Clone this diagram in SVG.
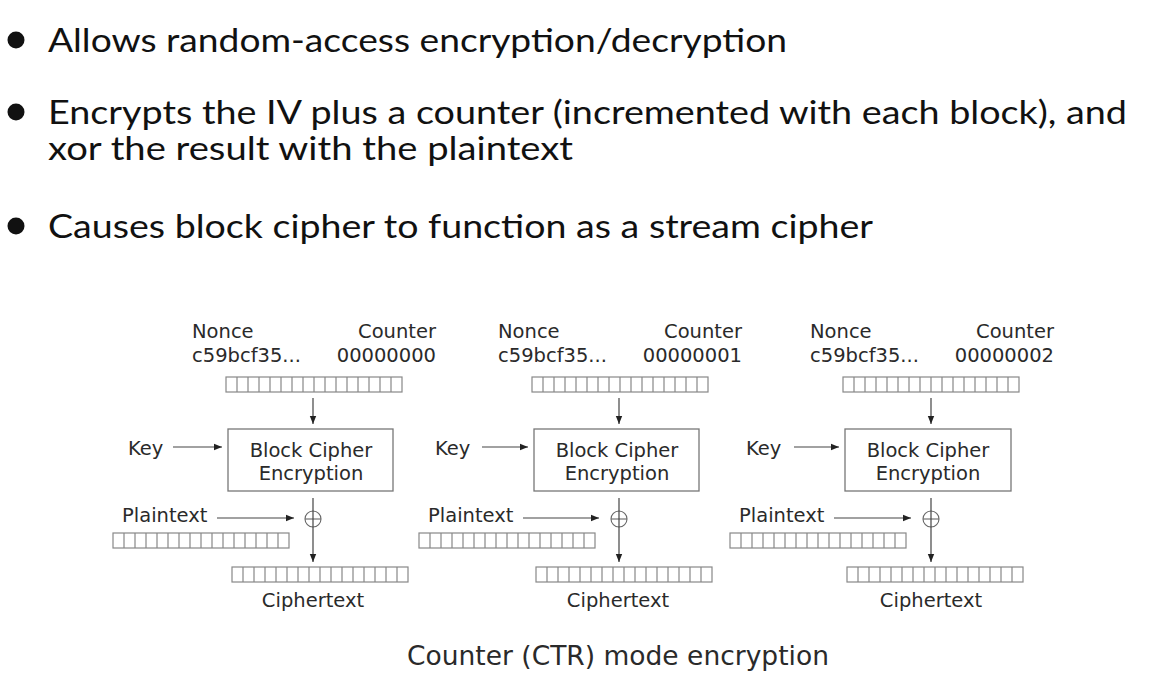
<svg xmlns="http://www.w3.org/2000/svg" xmlns:xlink="http://www.w3.org/1999/xlink" width="1170" height="700" viewBox="0 0 1170 700">
  <style>
    .bullet-text { font-family: Lato, "Open Sans", sans-serif; font-size: 33px; fill: #111; }
    .dot { fill: #111; }
    .lbl { font-family: "DejaVu Sans", sans-serif; font-size: 19.5px; fill: #2a2a2a; }
    .mid { text-anchor: middle; }
    .end { text-anchor: end; }
    .caption { font-family: "DejaVu Sans", sans-serif; font-size: 26.5px; fill: #2a2a2a; }
    .box { fill: #fff; stroke: #777; stroke-width: 1.3; }
    .reg { fill: #fff; stroke: #888; stroke-width: 1.2; }
    .conn { stroke: #444; stroke-width: 1.2; fill: none; }
    .xor { fill: none; stroke: #666; stroke-width: 1.1; }
  </style>
  <defs>
    <marker id="arrow" viewBox="0 0 10 10" refX="10" refY="5" markerWidth="8" markerHeight="8" markerUnits="userSpaceOnUse" orient="auto">
      <path d="M0,1 L10,5 L0,9 z" fill="#222"/>
    </marker>
    <!-- 16-cell register -->
    <g id="register">
      <rect class="reg" x="0" y="0" width="176" height="15"/>
      <path class="reg" d="M11,0v15M22,0v15M33,0v15M44,0v15M55,0v15M66,0v15M77,0v15M88,0v15M99,0v15M110,0v15M121,0v15M132,0v15M143,0v15M154,0v15M165,0v15"/>
    </g>
  </defs>

  <!-- bullet list -->
  <g id="bullets">
    <circle class="dot" cx="16" cy="40" r="8.5"/>
    <text class="bullet-text" x="48" y="52" textLength="739" lengthAdjust="spacingAndGlyphs">Allows random-access encryption/decryption</text>
    <circle class="dot" cx="16" cy="112" r="8.5"/>
    <text class="bullet-text" x="48" y="124" textLength="1079" lengthAdjust="spacingAndGlyphs">Encrypts the IV plus a counter (incremented with each block), and</text>
    <text class="bullet-text" x="48" y="160" textLength="525" lengthAdjust="spacingAndGlyphs">xor the result with the plaintext</text>
    <circle class="dot" cx="16" cy="226" r="8.5"/>
    <text class="bullet-text" x="48" y="238" textLength="825" lengthAdjust="spacingAndGlyphs">Causes block cipher to function as a stream cipher</text>
  </g>

  <!-- stage 0 -->
  <g id="stage0">
    <text class="lbl" x="192" y="338">Nonce</text>
    <text class="lbl end" x="436" y="338">Counter</text>
    <text class="lbl" x="192" y="362">c59bcf35...</text>
    <text class="lbl end" x="436" y="362">00000000</text>
    <use xlink:href="#register" x="226" y="377"/>
    <rect class="box" x="228" y="429" width="165" height="62"/>
    <text class="lbl mid" x="311" y="457">Block Cipher</text>
    <text class="lbl mid" x="311" y="480">Encryption</text>
    <text class="lbl" x="128" y="455">Key</text>
    <text class="lbl" x="122" y="522">Plaintext</text>
    <use xlink:href="#register" x="113" y="533"/>
    <circle class="xor" cx="313" cy="519" r="8"/>
    <line class="xor" x1="305" y1="519" x2="321" y2="519"/>
    <use xlink:href="#register" x="232" y="567"/>
    <text class="lbl mid" x="313" y="607">Ciphertext</text>
  </g>

  <!-- stage 1 -->
  <g id="stage1">
    <text class="lbl" x="498" y="338">Nonce</text>
    <text class="lbl end" x="742" y="338">Counter</text>
    <text class="lbl" x="498" y="362">c59bcf35...</text>
    <text class="lbl end" x="742" y="362">00000001</text>
    <use xlink:href="#register" x="532" y="377"/>
    <rect class="box" x="534" y="429" width="165" height="62"/>
    <text class="lbl mid" x="617" y="457">Block Cipher</text>
    <text class="lbl mid" x="617" y="480">Encryption</text>
    <text class="lbl" x="435" y="455">Key</text>
    <text class="lbl" x="428" y="522">Plaintext</text>
    <use xlink:href="#register" x="419" y="533"/>
    <circle class="xor" cx="619" cy="519" r="8"/>
    <line class="xor" x1="611" y1="519" x2="627" y2="519"/>
    <use xlink:href="#register" x="536" y="567"/>
    <text class="lbl mid" x="618" y="607">Ciphertext</text>
  </g>

  <!-- stage 2 -->
  <g id="stage2">
    <text class="lbl" x="810" y="338">Nonce</text>
    <text class="lbl end" x="1054" y="338">Counter</text>
    <text class="lbl" x="810" y="362">c59bcf35...</text>
    <text class="lbl end" x="1054" y="362">00000002</text>
    <use xlink:href="#register" x="843" y="377"/>
    <rect class="box" x="845" y="429" width="166" height="62"/>
    <text class="lbl mid" x="928" y="457">Block Cipher</text>
    <text class="lbl mid" x="928" y="480">Encryption</text>
    <text class="lbl" x="746" y="455">Key</text>
    <text class="lbl" x="739" y="522">Plaintext</text>
    <use xlink:href="#register" x="730" y="533"/>
    <circle class="xor" cx="931" cy="519" r="8"/>
    <line class="xor" x1="923" y1="519" x2="939" y2="519"/>
    <use xlink:href="#register" x="847" y="567"/>
    <text class="lbl mid" x="931" y="607">Ciphertext</text>
  </g>

  <!-- connectors -->
  <g id="connectors">
    <line class="conn" x1="313" y1="398" x2="313" y2="424" marker-end="url(#arrow)"/>
    <line class="conn" x1="173" y1="447" x2="222" y2="447" marker-end="url(#arrow)"/>
    <line class="conn" x1="217" y1="518" x2="294" y2="518" marker-end="url(#arrow)"/>
    <line class="conn" x1="313" y1="498" x2="313" y2="562" marker-end="url(#arrow)"/>

    <line class="conn" x1="619" y1="398" x2="619" y2="424" marker-end="url(#arrow)"/>
    <line class="conn" x1="482" y1="447" x2="528" y2="447" marker-end="url(#arrow)"/>
    <line class="conn" x1="523" y1="518" x2="599" y2="518" marker-end="url(#arrow)"/>
    <line class="conn" x1="619" y1="498" x2="619" y2="562" marker-end="url(#arrow)"/>

    <line class="conn" x1="931" y1="398" x2="931" y2="424" marker-end="url(#arrow)"/>
    <line class="conn" x1="794" y1="447" x2="839" y2="447" marker-end="url(#arrow)"/>
    <line class="conn" x1="834" y1="518" x2="911" y2="518" marker-end="url(#arrow)"/>
    <line class="conn" x1="931" y1="498" x2="931" y2="562" marker-end="url(#arrow)"/>
  </g>

  <text id="caption" class="caption" x="407" y="665">Counter (CTR) mode encryption</text>
</svg>
